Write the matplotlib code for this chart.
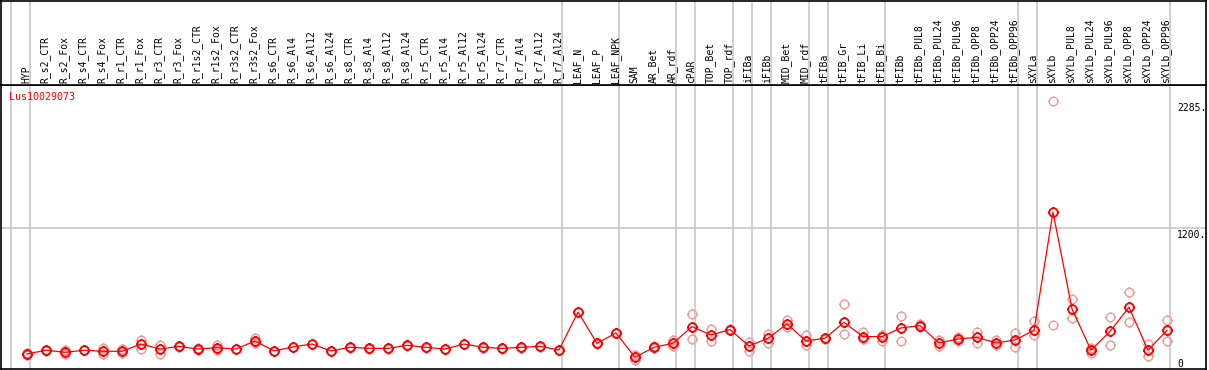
import matplotlib
matplotlib.use("Agg")
import matplotlib.pyplot as plt
from matplotlib.path import Path
import matplotlib.transforms as mtransforms
import numpy as np

# column labels (one per sample)
labels = [
    "HYP",
    "R_s2_CTR", "R_s2_Fox", "R_s4_CTR", "R_s4_Fox", "R_r1_CTR", "R_r1_Fox",
    "R_r3_CTR", "R_r3_Fox", "R_r1s2_CTR", "R_r1s2_Fox", "R_r3s2_CTR", "R_r3s2_Fox",
    "R_s6_CTR", "R_s6_Al4", "R_s6_Al12", "R_s6_Al24",
    "R_s8_CTR", "R_s8_Al4", "R_s8_Al12", "R_s8_Al24",
    "R_r5_CTR", "R_r5_Al4", "R_r5_Al12", "R_r5_Al24",
    "R_r7_CTR", "R_r7_Al4", "R_r7_Al12", "R_r7_Al24",
    "LEAF_N", "LEAF_P", "LEAF_NPK", "SAM", "AR_Bet", "AR_rdf", "cPAR",
    "TOP_Bet", "TOP_rdf", "iFIBa", "iFIBb", "MID_Bet", "MID_rdf",
    "tFIBa", "tFIB_Gr", "tFIB_Li", "tFIB_Bi", "tFIBb",
    "tFIBb_PUL8", "tFIBb_PUL24", "tFIBb_PUL96", "tFIBb_OPP8", "tFIBb_OPP24", "tFIBb_OPP96",
    "sXYLa", "sXYLb",
    "sXYLb_PUL8", "sXYLb_PUL24", "sXYLb_PUL96", "sXYLb_OPP8", "sXYLb_OPP24", "sXYLb_OPP96",
]

# mean expression per sample
means = [
    128, 160, 142, 160, 151, 151, 213, 170, 193, 170, 182, 170, 239,
    154, 188, 213, 154, 185, 176, 176, 202, 185, 170, 213, 185, 176, 185, 193, 162,
    486, 219, 307, 100, 185, 219, 361, 290, 336, 196, 262, 384, 239,
    262, 398, 276, 276, 350, 370, 222, 256, 270, 222, 247,
    330, 1337, 512, 160, 321, 526, 160, 330,
]

# replicate values (high / low)
rep_hi = [
    135, 166, 160, 162, 178, 168, 247, 202, 195, 180, 205, 172, 262,
    156, 191, 216, 157, 188, 179, 179, 205, 188, 173, 216, 188, 179, 188, 196, 165,
    490, 222, 310, 122, 195, 245, 469, 341, 340, 226, 296, 418, 290,
    265, 555, 319, 290, 452, 385, 245, 275, 316, 247, 304,
    410, 2285, 595, 180, 444, 654, 213, 418,
]
rep_lo = [
    122, 155, 125, 158, 130, 140, 168, 128, 190, 160, 160, 168, 220,
    152, 185, 210, 151, 182, 173, 173, 199, 182, 167, 210, 182, 173, 182, 190, 159,
    482, 216, 304, 75, 178, 195, 253, 242, 332, 155, 219, 358, 205,
    258, 296, 256, 242, 236, 355, 200, 240, 225, 205, 190,
    287, 373, 435, 140, 205, 398, 114, 236,
]

gene = "Lus10029073"
ytick_vals = [0, 1200, 2285]
ytick_text = ["0", "1200.", "2285."]
# group separators: index of the last column in each group (-1 = before first)
separators = [-1, 0, 28, 31, 34, 35, 37, 38, 39, 41, 42, 45, 52, 53, 60]

W, H = 1209, 370
fig = plt.figure(figsize=(W / 100, H / 100), dpi=100)
fig.patch.set_facecolor("white")

x = np.arange(len(labels))
xlim = ((1 - 27) / 19, (1206 - 27) / 19)
ytop = 2285 * 284 / 268

ax = fig.add_axes([1 / W, 1 / H, 1205 / W, 284 / H])
hd = fig.add_axes([1 / W, 285 / H, 1205 / W, 84 / H])

for a in (ax, hd):
    a.set_xlim(*xlim)
    a.set_xticks([])
    a.set_yticks([])
    for s in a.spines.values():
        s.set_color("black")
        s.set_linewidth(1.2)
    for sep in separators:
        a.axvline(sep + 3 / 19, color="#c4c4c4", lw=1.1, zorder=0)

ax.set_ylim(0, ytop)
hd.set_ylim(0, 1)

ax.axhline(1200, color="#c4c4c4", lw=1.1, zorder=0)

# marker: circle with four little ticks
cv = Path.circle((0, 0), 1.0)
verts = list(cv.vertices)
codes = list(cv.codes)
for dx, dy in [(0, 1), (0, -1), (1, 0), (-1, 0)]:
    verts += [(dx * 1.08, dy * 1.08), (dx * 1.3, dy * 1.3)]
    codes += [Path.MOVETO, Path.LINETO]
tick_circle = Path(verts, codes)

ax.plot(x, rep_hi, ls="none", marker=tick_circle, ms=8, mfc="none",
        mec="#f09a9a", mew=1.0, zorder=2, clip_on=False)
ax.plot(x, rep_lo, ls="none", marker=tick_circle, ms=8, mfc="none",
        mec="#f09a9a", mew=1.0, zorder=2, clip_on=False)
ax.plot(x, means, color="#ff0000", lw=0.9, marker=tick_circle, ms=8,
        mfc="none", mec="#ff0000", mew=1.3, zorder=3)

mono = "DejaVu Sans Mono"
trans = mtransforms.blended_transform_factory(hd.transData, hd.transAxes)
for i, lab in enumerate(labels):
    hd.text(i - 0.05, 2 / 84, lab, rotation=90, ha="center", va="bottom",
            fontsize=7, family=mono, transform=trans)

ax.text(8 / 1205, 1 - 7 / 284, gene, color="#ff0000", fontsize=7.2,
        family=mono, ha="left", va="top", transform=ax.transAxes)

tx = (1177 - 27) / 19
for v, t in zip(ytick_vals, ytick_text):
    if v == 0:
        ax.text(tx, v, t, fontsize=7, family=mono, ha="left", va="bottom")
    else:
        ax.text(tx, v - 15, t, fontsize=7, family=mono, ha="left", va="top")

fig.savefig("out.png", dpi=100)
